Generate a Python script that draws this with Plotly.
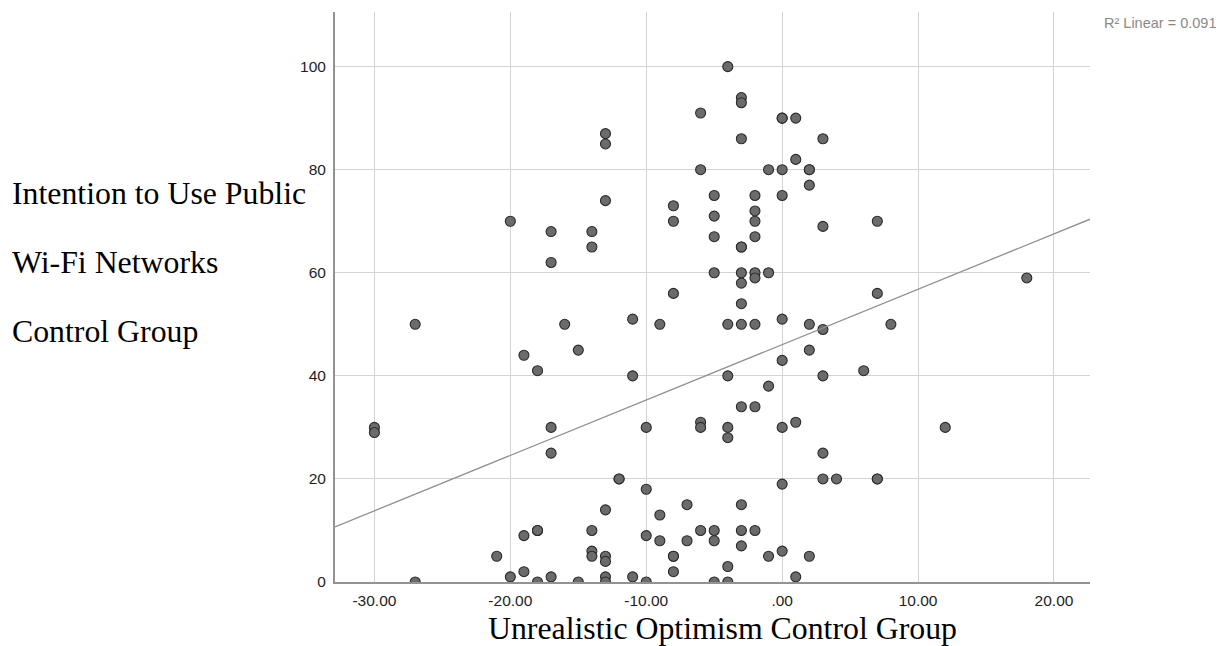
import plotly.graph_objects as go

# Data
optimism = [
    -30, -30, -27, -27,
    -21,
    -20, -20,
    -19, -19, -19,
    -18, -18, -18, -18,
    -17, -17, -17, -17, -17,
    -16,
    -15, -15,
    -14, -14, -14, -14, -14,
    -13, -13, -13, -13, -13, -13, -13, -13,
    -12, -12,
    -11, -11, -11,
    -10, -10, -10, -10,
    -9, -9, -9,
    -8, -8, -8, -8, -8, -8,
    -7, -7,
    -6, -6, -6, -6, -6,
    -5, -5, -5, -5, -5, -5, -5,
    -4, -4, -4, -4, -4, -4, -4,
    -3, -3, -3, -3, -3, -3, -3, -3, -3, -3, -3, -3, -3,
    -2, -2, -2, -2, -2, -2, -2, -2, -2,
    -1, -1, -1, -1,
    0, 0, 0, 0, 0, 0, 0, 0, 0,
    1, 1, 1, 1,
    2, 2, 2, 2, 2, 2,
    3, 3, 3, 3, 3, 3,
    4,
    6,
    7, 7, 7, 7,
    8,
    12,
    18,
]
intention = [
    30, 29, 50, 0,
    5,
    70, 1,
    44, 9, 2,
    41, 10, 10, 0,
    68, 62, 30, 25, 1,
    50,
    45, 0,
    68, 65, 10, 6, 5,
    87, 85, 74, 14, 5, 4, 1, 0,
    20, 20,
    51, 40, 1,
    30, 18, 9, 0,
    50, 13, 8,
    73, 70, 56, 5, 5, 2,
    15, 8,
    91, 80, 31, 30, 10,
    75, 71, 67, 60, 10, 8, 0,
    100, 50, 40, 30, 28, 3, 0,
    94, 93, 86, 65, 65, 60, 58, 54, 50, 34, 15, 10, 7,
    75, 72, 70, 67, 60, 59, 50, 34, 10,
    80, 60, 38, 5,
    90, 90, 80, 75, 51, 43, 30, 19, 6,
    90, 82, 31, 1,
    80, 80, 77, 50, 45, 5,
    86, 69, 49, 40, 25, 20,
    20,
    41,
    70, 56, 20, 20,
    50,
    30,
    59,
]

# Linear fit line as drawn in the reference (end points)
fit_x = [-32.9, 22.65]
fit_y = [10.7, 70.4]
r2_text = "R² Linear = 0.091"

x_tickvals = [-30, -20, -10, 0, 10, 20]
x_ticktext = ["-30.00", "-20.00", "-10.00", ".00", "10.00", "20.00"]
y_tickvals = [0, 20, 40, 60, 80, 100]
y_ticktext = ["0", "20", "40", "60", "80", "100"]

x_title = "Unrealistic Optimism Control Group"
y_title_lines = ["Intention to Use Public", "Wi-Fi Networks", "Control Group"]

W, H = 1231, 646
L, R, T, B = 335, 141, 12, 64
plot_w = W - L - R
plot_h = H - T - B


def px_to_paper_x(px):
    return (px - L) / plot_w


def px_to_paper_y(py):
    return (H - B - py) / plot_h


fig = go.Figure()

fig.add_trace(go.Scatter(
    x=optimism, y=intention, mode="markers",
    marker=dict(size=10, color="#6b6b6b", line=dict(color="#2a2a2a", width=1.1)),
    showlegend=False, hoverinfo="x+y",
))

fig.add_trace(go.Scatter(
    x=fit_x, y=fit_y, mode="lines",
    line=dict(color="#8f8f8f", width=1.3),
    showlegend=False, hoverinfo="skip",
))

axis_common = dict(
    showgrid=True, gridcolor="#d3d3d3", gridwidth=1.3,
    zeroline=False, showline=True, linecolor="#939393", linewidth=2,
    ticks="", tickfont=dict(family="Liberation Sans, Arial, sans-serif", size=15.5, color="#1e1e1e"),
)

fig.update_layout(
    width=W, height=H,
    margin=dict(l=L, r=R, t=T, b=B),
    paper_bgcolor="white", plot_bgcolor="white",
    xaxis=dict(range=[-32.9, 22.65], tickvals=x_tickvals, ticktext=x_ticktext,
               ticklabelstandoff=3, **axis_common),
    yaxis=dict(range=[0, 110.6], tickvals=y_tickvals, ticktext=y_ticktext,
               ticklabelstandoff=4, **axis_common),
)

serif = dict(family="Liberation Serif, Times New Roman, serif", size=31.8, color="black")

for i, (line_text, py) in enumerate(zip(y_title_lines, [193, 262, 331])):
    fig.add_annotation(
        text=line_text, xref="paper", yref="paper",
        x=px_to_paper_x(10), y=px_to_paper_y(py),
        xanchor="left", yanchor="middle", showarrow=False, font=serif,
    )

fig.add_annotation(
    text=x_title, xref="paper", yref="paper",
    x=px_to_paper_x(722), y=px_to_paper_y(628),
    xanchor="center", yanchor="middle", showarrow=False, font=serif,
)

fig.add_annotation(
    text=r2_text, xref="paper", yref="paper",
    x=px_to_paper_x(1218), y=px_to_paper_y(23),
    xanchor="right", yanchor="middle", showarrow=False,
    font=dict(family="Liberation Sans, Arial, sans-serif", size=14.5, color="#8a8a8a"),
)

fig.write_html("out.html")
